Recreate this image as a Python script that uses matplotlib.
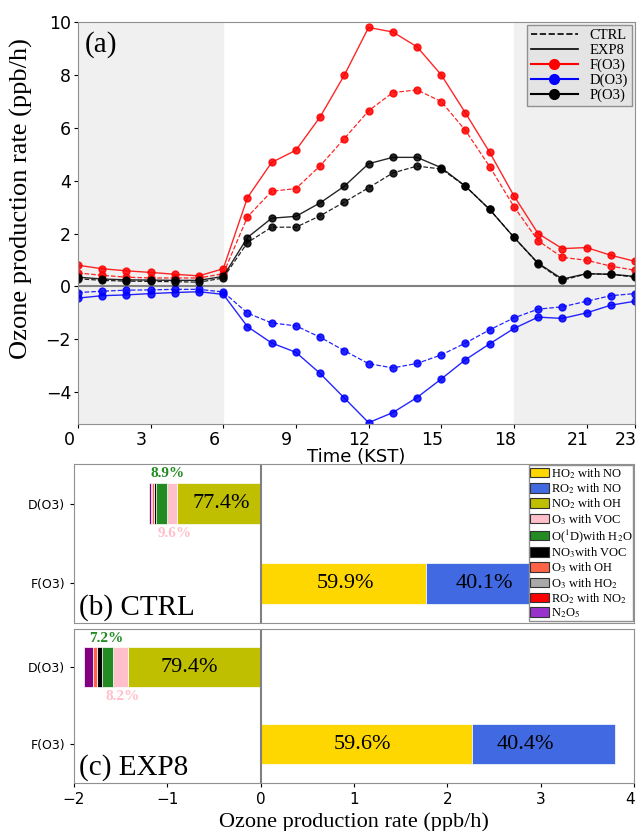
import matplotlib.pyplot as plt
import matplotlib.transforms as mtransforms
from matplotlib.lines import Line2D
from matplotlib.patches import Patch

plt.rcParams['mathtext.fontset'] = 'stix'
SERIF = 'Liberation Serif'

# ---------------- data: diurnal ozone budget (ppb/h) ----------------
hours = list(range(24))
f_ctrl = [0.51, 0.42, 0.35, 0.32, 0.32, 0.32, 0.48, 2.63, 3.60, 3.70, 4.56, 5.59,
          6.64, 7.33, 7.43, 6.99, 5.90, 4.53, 3.02, 1.73, 1.10, 0.99, 0.77, 0.61]
f_exp8 = [0.80, 0.67, 0.59, 0.53, 0.46, 0.40, 0.67, 3.36, 4.69, 5.15, 6.41, 7.99,
          9.79, 9.62, 9.06, 8.00, 6.56, 5.07, 3.43, 2.00, 1.43, 1.47, 1.18, 0.95]
d_ctrl = [-0.23, -0.18, -0.14, -0.13, -0.11, -0.11, -0.21, -1.01, -1.38, -1.49, -1.92, -2.43,
          -2.92, -3.08, -2.91, -2.59, -2.14, -1.64, -1.19, -0.86, -0.77, -0.56, -0.35, -0.27]
d_exp8 = [-0.44, -0.35, -0.32, -0.27, -0.23, -0.20, -0.30, -1.52, -2.14, -2.49, -3.29, -4.22,
          -5.15, -4.77, -4.20, -3.50, -2.77, -2.17, -1.59, -1.16, -1.21, -1.00, -0.71, -0.56]
p_ctrl = [0.29, 0.23, 0.20, 0.19, 0.18, 0.16, 0.32, 1.66, 2.24, 2.24, 2.67, 3.19,
          3.73, 4.29, 4.55, 4.44, 3.79, 2.91, 1.86, 0.86, 0.23, 0.48, 0.46, 0.35]
p_exp8 = [0.35, 0.28, 0.25, 0.24, 0.23, 0.23, 0.38, 1.85, 2.58, 2.65, 3.16, 3.79,
          4.64, 4.88, 4.88, 4.49, 3.79, 2.91, 1.86, 0.88, 0.28, 0.48, 0.46, 0.38]

# ---------------- data: mean reaction contributions (ppb/h) ----------------
reactions = ['HO$_2$ with NO', 'RO$_2$ with NO', 'NO$_2$ with OH', 'O$_3$ with VOC',
             'O($^1$D)with H$_2$O', 'NO$_3$with VOC', 'O$_3$ with OH', 'O$_3$ with HO$_2$',
             'RO$_2$ with NO$_2$', 'N$_2$O$_5$']
bar_colors = ['#FFD700', '#4169E1', '#BFBF00', '#FFC0CB', '#228B22', 'black',
              '#FF6347', '#A9A9A9', 'red', 'purple']
legend_colors = ['#FFD700', '#4169E1', '#BFBF00', '#FFC0CB', '#228B22', 'black',
                 '#FF6347', '#A9A9A9', 'red', '#9932CC']
# formation terms (first two reactions), destruction terms (the rest)
form_ctrl = [1.77, 1.17]
form_exp8 = [2.26, 1.54]
dest_ctrl = [0.897, 0.111, 0.112, 0.022, 0.025, 0.002, 0.002, 0.029]
dest_exp8 = [1.424, 0.155, 0.126, 0.054, 0.036, 0.002, 0.002, 0.090]
pct_ctrl = {'F': ['59.9%', '40.1%'], 'D': ['77.4%', '9.6%', '8.9%']}
pct_exp8 = {'F': ['59.6%', '40.4%'], 'D': ['79.4%', '8.2%', '7.2%']}

fig = plt.figure(figsize=(6.37, 8.31), dpi=100)

# ============= (a) diurnal cycle =============
ax = fig.add_axes([0.1224, 0.4898, 0.8744, 0.4838])
ax.axvspan(0, 6, color='#f0f0f0', zorder=0)
ax.axvspan(18, 23, color='#f0f0f0', zorder=0)
ax.axhline(0, color='gray', lw=1.5, zorder=1)

for vals, col in [(f_ctrl, 'red'), (d_ctrl, 'blue'), (p_ctrl, 'black')]:
    ax.plot(hours, vals, '--', color=col, lw=0.9, marker='o', ms=5, alpha=0.85)
for vals, col in [(f_exp8, 'red'), (d_exp8, 'blue'), (p_exp8, 'black')]:
    ax.plot(hours, vals, '-', color=col, lw=1.0, marker='o', ms=5, alpha=0.85)

ax.set_xlim(0, 23)
ax.set_ylim(-5.2, 10)
ax.set_xticks([0, 3, 6, 9, 12, 15, 18, 21, 23])
ax.set_yticks([-4, -2, 0, 2, 4, 6, 8, 10])
ax.tick_params(labelsize=12.5, length=3, pad=2, colors='black')
# x tick labels sit a little left of their ticks in the original
shift = mtransforms.ScaledTranslation(-9 / 100, 0, fig.dpi_scale_trans)
for lab in ax.get_xticklabels():
    lab.set_transform(lab.get_transform() + shift)
for sp in ax.spines.values():
    sp.set_color('#909090')
ax.set_xlabel('Time (KST)', fontsize=13, labelpad=-1)
ax.set_ylabel('Ozone production rate (ppb/h)', fontsize=19, family=SERIF)
ax.yaxis.set_label_coords(-0.081, 0.56)
ax.text(0.012, 0.945, '(a)', transform=ax.transAxes, fontsize=21, family=SERIF,
        va='center')

handles = [Line2D([], [], color='black', ls='--', lw=1.2),
           Line2D([], [], color='black', ls='-', lw=1.2),
           Line2D([], [], color='red', marker='o', ms=7),
           Line2D([], [], color='blue', marker='o', ms=7),
           Line2D([], [], color='black', marker='o', ms=7)]
leg = ax.legend(handles, ['CTRL', 'EXP8', 'F(O3)', 'D(O3)', 'P(O3)'], loc='upper right',
                prop={'family': SERIF, 'size': 10.5}, fancybox=False, framealpha=1,
                facecolor='#e4e4e4', edgecolor='#909090', borderaxespad=0.2,
                handlelength=3.2, labelspacing=0.1, borderpad=0.3)

# ============= (b) CTRL / (c) EXP8 mean budgets =============
def budget_panel(rect, form, dest, pct, tag, pct_pos):
    bx = fig.add_axes(rect)
    # formation: stacked to the right at y = 0
    left = 0
    for v, col in zip(form, bar_colors[:2]):
        bx.barh(0, v, left=left, height=0.52, color=col, edgecolor='white', lw=0.5)
        left += v
    # destruction: stacked to the left at y = 1
    left = 0
    for v, col in zip(dest, bar_colors[2:]):
        bx.barh(1, -v, left=left, height=0.52, color=col, edgecolor='white', lw=0.5)
        left -= v
    bx.axvline(0, color='gray', lw=1.5)
    bx.set_xlim(-2, 4)
    bx.set_ylim(-0.5, 1.5)
    bx.set_yticks([1, 0])
    bx.set_yticklabels(['D(O3)', 'F(O3)'])
    bx.tick_params(axis='y', labelsize=9, length=3)
    for sp in bx.spines.values():
        sp.set_color('#909090')

    (xf1, xf2, xd1, xd2, xd3) = pct_pos
    bx.text(xf1, 0, pct['F'][0], ha='center', va='center', fontsize=16, family=SERIF)
    bx.text(xf2, 0, pct['F'][1], ha='center', va='center', fontsize=16, family=SERIF)
    bx.text(xd1, 1, pct['D'][0], ha='center', va='center', fontsize=16, family=SERIF)
    bx.text(xd2, 0.62, pct['D'][1], ha='center', va='center', fontsize=11,
            family=SERIF, weight='bold', color='#FFC0CB')
    bx.text(xd3, 1.38, pct['D'][2], ha='center', va='center', fontsize=11,
            family=SERIF, weight='bold', color='#228B22')
    bx.text(-1.95, -0.3, tag, fontsize=21, family=SERIF, va='center')
    return bx


bx = budget_panel([0.1162, 0.2503, 0.8791, 0.1913], form_ctrl, dest_ctrl, pct_ctrl,
                  '(b) CTRL', (0.91, 2.40, -0.42, -0.92, -1.0))
bx.tick_params(axis='x', bottom=False, labelbottom=False)
legend_handles = [Patch(facecolor=c, edgecolor='#333333', lw=0.8) for c in legend_colors]
bx.legend(legend_handles, reactions, loc='upper right', prop={'family': SERIF, 'size': 9},
          fancybox=False, framealpha=1, edgecolor='#909090', borderaxespad=0.05,
          handlelength=1.5, handleheight=0.8, handletextpad=0.15, labelspacing=0.04,
          borderpad=0.1)

cx = budget_panel([0.1162, 0.0578, 0.8791, 0.1853], form_exp8, dest_exp8, pct_exp8,
                  '(c) EXP8', (1.09, 2.84, -0.77, -1.48, -1.66))
cx.set_xticks([-2, -1, 0, 1, 2, 3, 4])
cx.tick_params(axis='x', labelsize=11, length=3)
last = cx.get_xticklabels()[-1]
last.set_transform(last.get_transform() +
                   mtransforms.ScaledTranslation(-4 / 100, 0, fig.dpi_scale_trans))
cx.set_xlabel('Ozone production rate (ppb/h)', fontsize=16, family=SERIF, labelpad=4)

fig.savefig('out.png', dpi=100)
